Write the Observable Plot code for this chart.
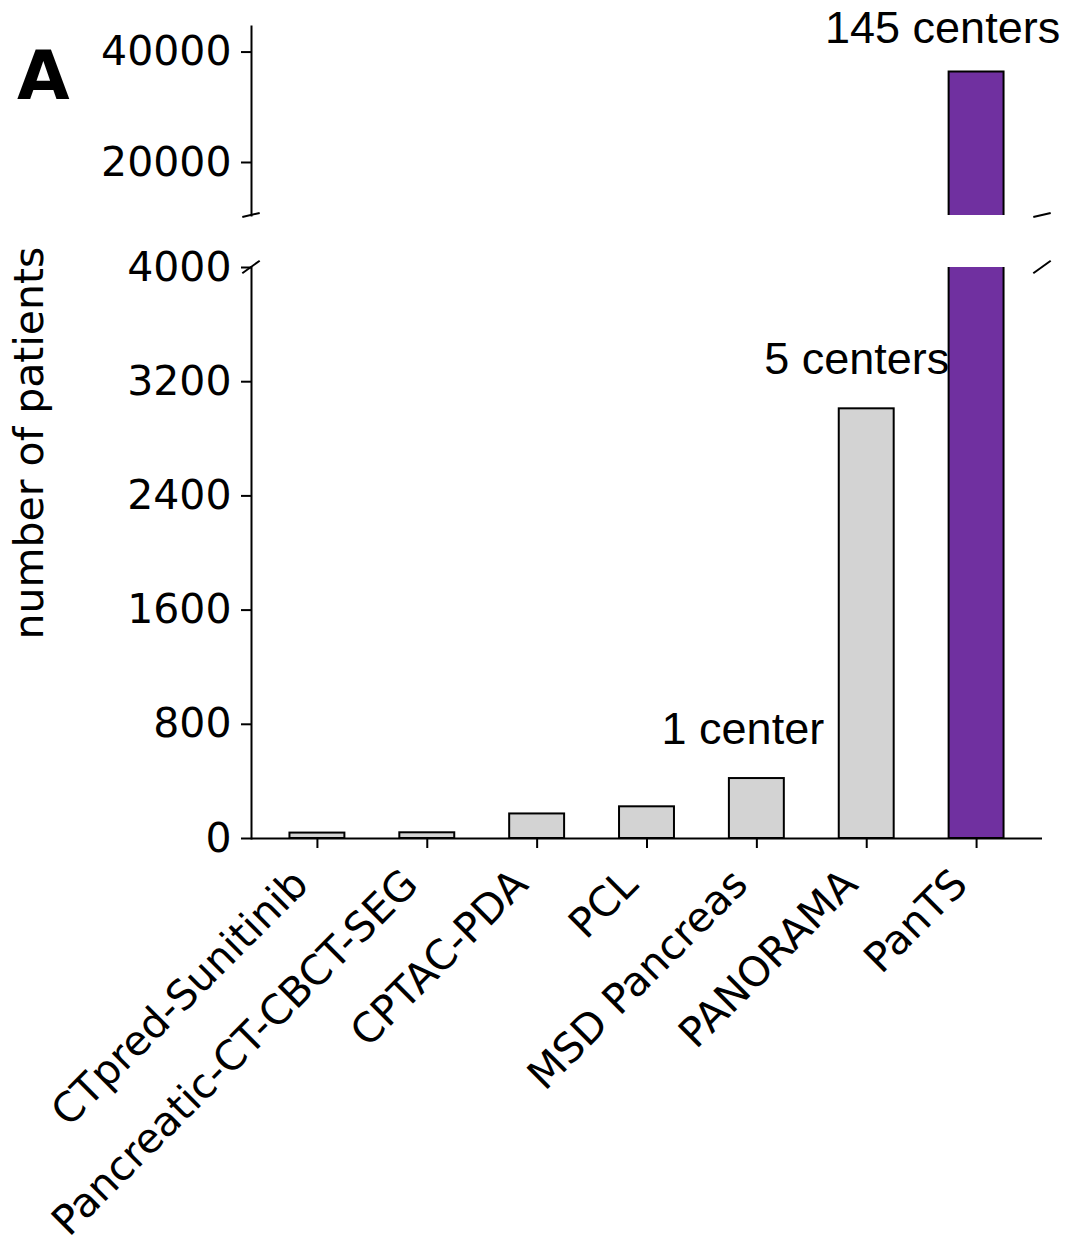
<!DOCTYPE html>
<html><head><meta charset="utf-8">
<script src="https://cdn.jsdelivr.net/npm/d3@7"></script>
<script src="https://cdn.jsdelivr.net/npm/@observablehq/plot@0.6"></script>
<style>
html,body{margin:0;padding:0;background:#fff;}
#wrap{position:relative;width:1073px;height:1242px;overflow:hidden;font-family:"DejaVu Sans";color:#000;}
#top,#bottom{position:absolute;left:0;}
#top{top:0;}
#bottom{top:225px;}
#panel{position:absolute;left:17px;top:42px;font-family:"DejaVu Sans";font-weight:bold;font-size:68px;line-height:1;}
#ylab{position:absolute;left:29px;top:443px;transform:translate(-50%,-50%) rotate(-90deg);font-family:"DejaVu Sans";font-size:41px;line-height:1;white-space:nowrap;}
</style></head><body>
<div id="wrap"><div id="top"></div><div id="bottom"></div><div id="panel">A</div><div id="ylab">number of patients</div></div>
<script>
// ---- data ----
const categories = ["CTpred-Sunitinib", "Pancreatic-CT-CBCT-SEG", "CPTAC-PDA", "PCL", "MSD Pancreas", "PANORAMA", "PanTS"];
const patients = [38, 40, 172, 222, 420, 3010, 36390];
const highlight = "PanTS";
const annotCategories = ["MSD Pancreas", "PANORAMA", "PanTS"];
const annotLabels = ["1 center", "5 centers", "145 centers"];
const upperTicks = [20000, 40000];
const lowerTicks = [0, 800, 1600, 2400, 3200, 4000];
const upperDomain = [10400, 44630];
const lowerDomain = [0, 4000];

const data = categories.map((name, i) => ({name, patients: patients[i]}));
const annots = annotCategories.map((name, i) => ({name, label: annotLabels[i], patients: patients[categories.indexOf(name)]}));
const annotShift = {"1 center": [-14, -35], "5 centers": [-10, -35], "145 centers": [-34, -29]};

const GRAY = "#d3d3d3", PURPLE = "#7030a0";
const fillOf = d => d.name === highlight ? PURPLE : GRAY;

const xScale = {type: "band", domain: categories, paddingInner: 0.5, paddingOuter: 0.35, round: false};
const style = {fontFamily: "'DejaVu Sans'", fontSize: "41px", color: "black", overflow: "visible", background: "transparent"};

function breakMarks(edge) {
  return (index, scales, values, dims) => {
    const g = d3.create("svg:g").attr("stroke", "black").attr("stroke-width", 2).attr("fill", "none");
    const x0 = dims.marginLeft, x1 = dims.width - dims.marginRight;
    const y0 = dims.marginTop, y1 = dims.height - dims.marginBottom;
    const fw = x1 - x0, fh = y1 - y0, d = 0.011;
    const y = edge === "bottom" ? y1 : y0;
    for (const x of [x0, x1]) {
      g.append("line").attr("x1", x - d * fw).attr("x2", x + d * fw).attr("y1", y + d * fh).attr("y2", y - d * fh);
    }
    return g.node();
  };
}

function annotMarks(rows) {
  return rows.map(r => Plot.text([r], {
    x: "name", y: "patients", text: "label",
    dx: annotShift[r.label][0], dy: annotShift[r.label][1],
    lineAnchor: "bottom", textAnchor: "middle",
    fontFamily: "'Liberation Sans'", fontSize: 45, fill: "black"
  }));
}

const topPlot = Plot.plot({
  width: 1073, height: 225,
  marginTop: 26, marginBottom: 10, marginLeft: 251, marginRight: 31,
  style,
  x: {...xScale, axis: null},
  y: {domain: upperDomain, label: null},
  marks: [
    ...annotMarks(annots.filter(a => a.patients > upperDomain[0])),
    Plot.barY(data, {x: "name", y: "patients", fill: fillOf, stroke: "black", strokeWidth: 2, clip: true}),
    Plot.frame({anchor: "left", strokeWidth: 2}),
    Plot.axisY({ticks: upperTicks, tickSize: 10, tickPadding: 10, strokeWidth: 2, tickFormat: d3.format("d"), label: null}),
    breakMarks("bottom")
  ]
});

const bottomPlot = Plot.plot({
  width: 1073, height: 1017,
  marginTop: 42, marginBottom: 404, marginLeft: 251, marginRight: 31,
  style,
  x: {...xScale, label: null},
  y: {domain: lowerDomain, label: null},
  marks: [
    ...annotMarks(annots.filter(a => a.patients <= lowerDomain[1])),
    Plot.barY(data, {x: "name", y: "patients", fill: fillOf, stroke: "black", strokeWidth: 2, clip: true}),
    Plot.frame({anchor: "left", strokeWidth: 2}),
    Plot.ruleY([0], {strokeWidth: 2}),
    Plot.axisY({ticks: lowerTicks, tickSize: 10, tickPadding: 10, strokeWidth: 2, tickFormat: d3.format("d"), label: null}),
    Plot.axisX({tickSize: 10, strokeWidth: 2, fill: "none", label: null}),
    Plot.text(categories, {x: d => d, frameAnchor: "bottom", rotate: -45, textAnchor: "end", lineAnchor: "bottom", dx: -7, dy: 48, fontSize: 41, fill: "black"}),
    breakMarks("top")
  ]
});

document.getElementById("top").appendChild(topPlot);
document.getElementById("bottom").appendChild(bottomPlot);
</script>
</body></html>
